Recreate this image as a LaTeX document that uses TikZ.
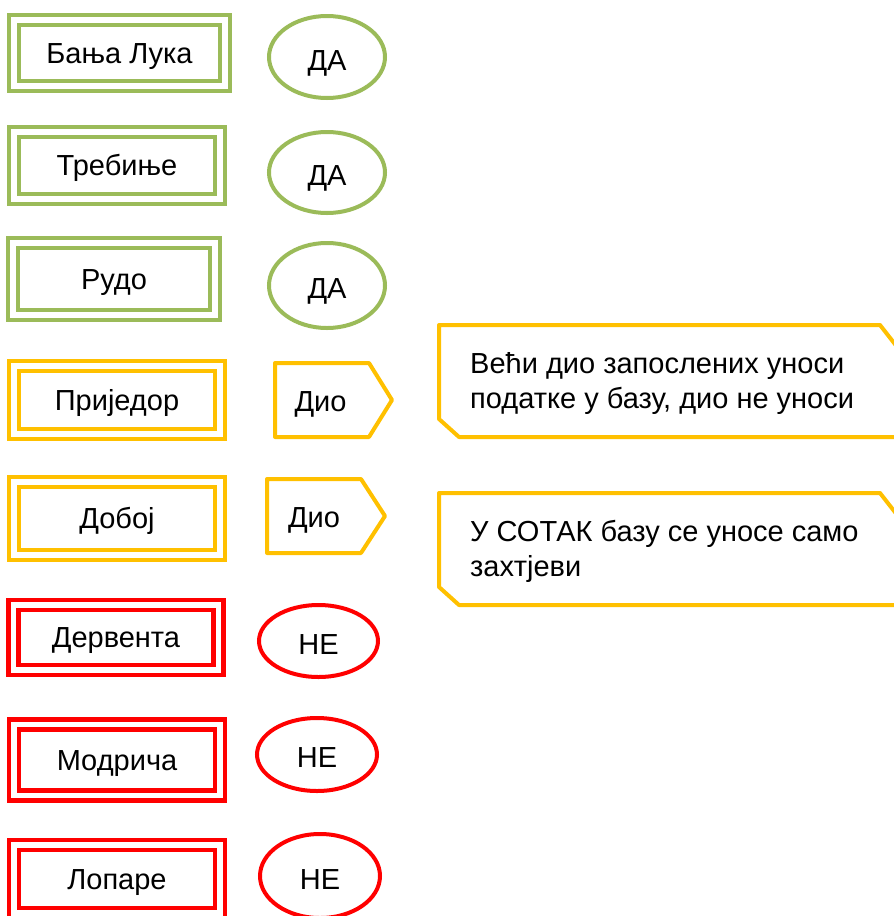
\documentclass[tikz,border=0pt]{standalone}
\usepackage{fontspec}
\setmainfont{Liberation Sans}
\usetikzlibrary{shapes.geometric}
\definecolor{ogreen}{HTML}{9BBB59}
\definecolor{ogold}{HTML}{FFC000}
\definecolor{ored}{HTML}{FF0000}
\begin{document}
\begin{tikzpicture}[x=1pt,y=-1pt,
  citybox/.style={draw=#1, double=white, double distance=5.5pt, line width=4.3pt,
    rectangle, inner sep=0pt, font=\fontsize{29}{33}\selectfont,
    text height=20.8pt, text depth=0pt},
  answer/.style={draw=#1, ellipse, line width=4pt, inner sep=0pt,
    font=\fontsize{29}{33}\selectfont, text height=26.8pt, text depth=0pt},
  partlabel/.style={inner sep=0pt, font=\fontsize{29}{33}\selectfont,
    text height=20.8pt, text depth=0pt},
  partline/.style={draw=ogold, line width=4pt, line join=round},
  notetext/.style={inner sep=0pt, anchor=west, align=left,
    font=\fontsize{29}{35}\selectfont}
]
\useasboundingbox (0,0) rectangle (894,916);
\clip (0,0) rectangle (894,916);

% city boxes
\node[citybox=ogreen, minimum width=211pt, minimum height=66pt] (b1) at (119.5,53) {Бања Лука};
\node[citybox=ogreen, minimum width=206pt, minimum height=67pt] (b2) at (117,165.5) {Требиње};
\node[citybox=ogreen, minimum width=202pt, minimum height=72pt] (b3) at (114,279) {Рудо};
\node[citybox=ogold, minimum width=206pt, minimum height=68pt] (b4) at (117,400) {Приједор};
\node[citybox=ogold, minimum width=206pt, minimum height=73pt] (b5) at (117,518.5) {Добој};
\node[citybox=ored, minimum width=205pt, minimum height=65pt] (b6) at (116,637.5) {Дервента};
\node[citybox=ored, minimum width=206pt, minimum height=71pt] (b7) at (117,760) {Модрича};
\node[citybox=ored, minimum width=206pt, minimum height=68pt] (b8) at (117,879) {Лопаре};

% answers
\node[answer=ogreen, minimum width=116pt, minimum height=82pt] (e1) at (327,57) {ДА};
\node[answer=ogreen, minimum width=116pt, minimum height=81pt] (e2) at (327,172.5) {ДА};
\node[answer=ogreen, minimum width=116pt, minimum height=85pt] (e3) at (327,285.5) {ДА};
\node[answer=ored, minimum width=119pt, minimum height=72pt] (e6) at (318.5,641) {НЕ};
\node[answer=ored, minimum width=120pt, minimum height=73pt] (e7) at (317,754.5) {НЕ};
\node[answer=ored, minimum width=120pt, minimum height=84pt] (e8) at (320,876) {НЕ};

% partial answers (pentagons)
\draw[partline] (275,363) -- (369,363) -- (392,400) -- (369,437) -- (275,437) -- cycle;
\node[partlabel] (p1) at (320.5,401) {Дио};
\draw[partline] (267,479) -- (361,479) -- (385,516) -- (361,553) -- (267,553) -- cycle;
\node[partlabel] (p2) at (314,517) {Дио};

% notes
\draw[partline] (439,325) -- (880,325) -- (905,357) -- (905,437) -- (459,437) -- (439,419) -- cycle;
\node[notetext] (n1) at (470,383) {Већи дио запослених уноси\\податке у базу, дио не уноси};
\draw[partline] (439,493) -- (880,493) -- (905,525) -- (905,605) -- (459,605) -- (439,587) -- cycle;
\node[notetext] (n2) at (470,551) {У СОТАК базу се уносе само\\захтјеви};
\end{tikzpicture}
\end{document}
